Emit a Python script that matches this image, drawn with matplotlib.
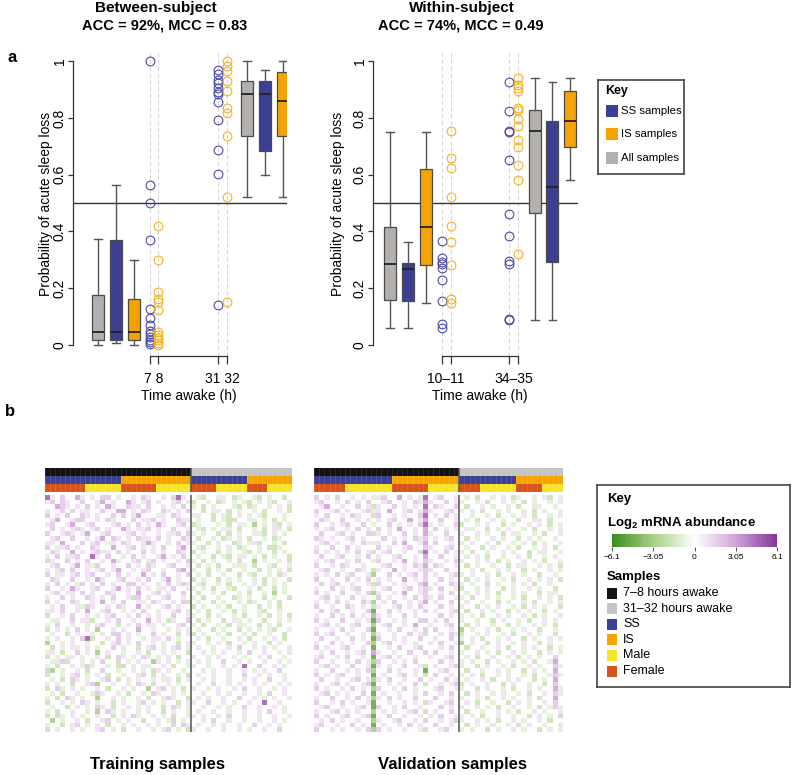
import numpy as np
import matplotlib
matplotlib.use("Agg")
import matplotlib.pyplot as plt
from matplotlib.colors import LinearSegmentedColormap, ListedColormap
from matplotlib.patches import Rectangle

plt.rcParams['font.family'] = ['Liberation Sans', 'DejaVu Sans']
plt.rcParams['mathtext.fontset'] = 'custom'
plt.rcParams['mathtext.rm'] = 'Liberation Sans:bold'

W, H = 792, 775

# ---------------- panel a data ----------------
# (whisker low, q1, median, q3, whisker high) : All, SS, IS at early time, then All, SS, IS late
between_boxes = [
    (0.0, 0.015, 0.045, 0.174, 0.372),
    (0.007, 0.015, 0.045, 0.37, 0.562),
    (0.0, 0.015, 0.045, 0.16, 0.298),
    (0.52, 0.735, 0.883, 0.93, 1.0),
    (0.60, 0.685, 0.883, 0.93, 0.97),
    (0.52, 0.735, 0.86, 0.963, 1.0),
]
between_ss_7 = [1.0, 0.562, 0.501, 0.371, 0.126, 0.093, 0.07, 0.049, 0.038, 0.026, 0.018, 0.009, 0.004]
between_is_8 = [0.419, 0.298, 0.187, 0.161, 0.151, 0.121, 0.045, 0.035, 0.023, 0.015, 0.006, 0.0]
between_ss_31 = [0.971, 0.954, 0.933, 0.925, 0.907, 0.892, 0.884, 0.856, 0.792, 0.688, 0.601, 0.141]
between_is_32 = [1.0, 0.984, 0.965, 0.93, 0.894, 0.836, 0.816, 0.738, 0.521, 0.149]
between_tick_labels = ['7 8', '31 32']

within_boxes = [
    (0.059, 0.158, 0.284, 0.417, 0.751),
    (0.059, 0.155, 0.266, 0.288, 0.364),
    (0.147, 0.282, 0.417, 0.621, 0.751),
    (0.088, 0.464, 0.754, 0.83, 0.942),
    (0.088, 0.291, 0.558, 0.788, 0.927),
    (0.581, 0.698, 0.791, 0.897, 0.942),
]
within_ss_early = [0.367, 0.305, 0.293, 0.284, 0.272, 0.229, 0.155, 0.074, 0.059]
within_is_early = [0.754, 0.66, 0.622, 0.521, 0.418, 0.364, 0.282, 0.161, 0.147]
within_ss_late = [0.927, 0.824, 0.755, 0.749, 0.651, 0.462, 0.383, 0.296, 0.285, 0.09, 0.086]
within_is_late = [0.942, 0.917, 0.907, 0.896, 0.837, 0.83, 0.795, 0.773, 0.723, 0.697, 0.634, 0.581, 0.32]
within_tick_labels = ['10\u201311', '34\u201335']

box_colors = ['#b3b0ad', '#3b4095', '#f5a300']
point_colors = ['#4a48aa', '#f5b020']

# ---------------- panel b data ----------------
# annotation runs (category, number of samples)
train_time = [('early', 29), ('late', 20)]
train_group = [('SS', 15), ('IS', 14), ('SS', 11), ('IS', 9)]
train_sex = [('F', 8), ('M', 7), ('F', 7), ('M', 7), ('F', 5), ('M', 6), ('F', 4), ('M', 5)]
valid_time = [('early', 28), ('late', 20)]
valid_group = [('SS', 15), ('IS', 13), ('SS', 11), ('IS', 9)]
valid_sex = [('F', 6), ('M', 9), ('F', 7), ('M', 6), ('F', 4), ('M', 7), ('F', 5), ('M', 4)]

# log2 abundance, coded per cell: . 0, : / - faint, p / g light, P / G medium, M / K strong
levels = {'.': 0.0, ':': 0.9, 'p': 1.6, 'P': 2.7, 'M': 4.4,
          '-': -0.9, 'g': -1.6, 'G': -2.7, 'K': -4.4}

train_rows = [
    "M:.p..P:.:.pp.:..:.p:..:.pM:.|.-g..:-.g-..-g.-..g.:",
    ":p.p:..p..:P.:..P:.:p.:..:p.:|g..-.g:.-.-g.:.-g..-.",
    "..Pp:.:.p.:.P:..p::.p..:.:.p.|-.g.-...-g.g-..-.:.g.",
    ":..p.p.::..p..PP.:.p:..p:.:.p|..g.-:.g.-..-.g..-.g-",
    "p.:.p..p:.:..p.p.:P...::.p:..|-:..g.-g.:.-.-g...-.g",
    ".:P..:pp..:.p:...p.::p.:..p::|.-..g.-gg..-:.-.g.-..",
    ":p..:P..:p...:p.:.p.:.P:..:p.|g-...-.g.:-.G.-.:g.--",
    ".p.:.:p:.:p.:..P:.::p.:..p..:|.-g.-.:-.g..-.g.:-.g.",
    "p..:p:.:P..:p...:p.:..:.::p.p|-.-..g.g.-..:-g.:.-.g",
    ".:p..p..:.:P.p:.:.p::.p.:..p:|.g..-.g:.-.g..-.g-..-",
    "::.P...p.:p.-:.p:..:P:..:.p.:|-..g.-..g-.-:g..-.g..",
    "p.-:p.:..p:..P..:p.:.:.p..:P.|.-g..-.:.g-..-.gg-..g",
    ".p:..P.:.:p-:.p.:..p.:.:..p:.|g.-..g.-..-g.-..g.-.-",
    ":.p.::p..M:.p..:.p.:..:P.:.p.|.-..g.-g.-:.-.g.-..g.",
    "p:..p.:.p..:.P:..:p.-p.:..:.p|-.g.-..-.g..G.-..-.g.",
    ".:p..:P.:-p..:..p.:.p:..:p..:|.g.-.g..-:-.g..-g..-.",
    ":.:p.p..:.:p.:P..:.:p..-..pP.|-..g.-.g..-..g.-.-.g.",
    "p.-:.:p.:p..:.p.:..P.:.p..:.p|.-.g..-..g.-g..-.g:.-",
    ".p:..p..:.P:..:p..:.p..:P.:..|g.-..g.-.-..-.g.-..g.",
    ":.p.:.-p.:.p.:..pp.:..:.p.:p:|.-g..-.g..-.:.g.-.-.g",
    "p..:.P:..:p..:P.:.p.:.-:.p..:|-.-.g..-g..-.g..g.-..",
    ".:p.-:.p.:..p:..:.P..:p.:..p.|.g..-.g..-.g..-.G.-.-",
    "-..p.:..p:.:.p..:gp.:..:p..:.|-.g..-..g-.-..g.-..g.",
    "p.:..p:..:.P.:.p..:-.p:..:.pg|.-..g.-..:.g-..-.g..-",
    ".:.p..:-p:..:.p:..P.:..:p.:..|g.-..-.g..-..g.-.g..-",
    "-:.p..:.P..:p..-.:.p..:..:p.:|.-.g..-.g.-..-g..-..g",
    "g..:.p..:.-.:p..:.p.:.-..p..:|-..g.-..-.g..-.g.-.g.",
    ".-:..p.::g..:.p..:..P.:.g:..p|.g.-..g.:-.-..g..-.-.",
    "-.p..:..-.:p..g.:.p.:-.:..:p.|-.g..-.g.:-..g.-.g..-",
    "g.:.-.p.:.G..:.:..P..:..-.:.:|.-..g.-..g.-.-.:g..-.",
    ".-..g.:..-.:.pp.:.-..p.:..g.:|g.-..-.g..-.g..-..g.-",
    "-.:..:.pMg..:.p.:..-.::.p.-..|.:.g..-..:.g..-.:.g..",
    "G..-.:..-..g.:p.-.p..:.-..g.:|-..-.:.g..-.:..g.-..:",
    ".g.:.:-.:.-..p.:..g.:p.-.:p.-|.:..-..:.p..-.:.-..:.",
    "-:.g..p.:.G.:..-..:.g..:.-..g|..:.-.:..-.p..:..-.:.",
    "g.-.::.-..:.g.p:.-.p:.-.:.g..|:..-.:..:.-..:.p..-.:",
    ".-:pg..:.-.p..g.-.:..G:.:.-.:|.-.:..p..:.-..:..:.-.",
    "-.g..:.-p:..-.gp.:.:-..:.g..-|:..-..:.-.M..p..:.-..",
    "pG.-..:.g..p..-..:.-.g:.:..-.|..:.-..:..:.-.:..p..:",
    "g..-.:p.-.:.g..-..:p.g.:..-.g|.:..:..-..p..:.:..-.:",
    ".-.g.p:.-..:p.g.:.-..:.-:.g.:|..-.:..:..-.:..p..:..",
    "-.:..g..:pG..:..-.p:.g..:.-..|.:..p..-.:..:.-..:.:.",
    "g.p-.:.-..:.g..:.-..G.:p.-.g.|:..-.:..:.p..:..-.:..",
    ".-.g..:..-p:..-.g..:.p-..:.-.|..:..:.-..:..:.p..:.-",
    "-.g.p:.-..G..:.-..:.g..:p-..g|.:.-..:..p..:.-.:..:.",
    "g..:.-.p:.-..g.:..-p.:.-..g.:|:..p..:.-..:..M..:..-",
    ".-..g.:.-.p:.g..:.-.:..g.p:.-|..:..-.:..p..:..:.-.:",
    "-.g..:..-.G.p:.-..:.-..g.:..-|.:..:..-..:..:.p..:..",
    "g.p-.:.-..:..g.:.p-..:.-.g..:|:.-..:.p..:..-..:..:.",
    ".G.-..:.g..:p.-.:..g..:.-p.-.|..:.p..:..-..:..:.-.:",
    "-..g.:p.-.:.g..:.-..:.-..g.p:|.:..:.-..:..p..:.-..:",
    "g.-..:.-..:p.-.g..:..-.:p.-.g|:..-..:..:.-..:..p..:",
]

valid_rows = [
    "p.:.p..:.:. - :p..P.:.: M .:p..:|.-.g..-.:.g-..-.:g.-",
    ":p..:.p.:.p . .:p..:.p: P :..p.:|-..-.g..:.-.g.-..-.:",
    ".:P..:..p.: g :..p.:.:. M .p:..p|.g..:.-..-.g..:-..-.",
    "p..:p.:..:p - :.P..:p.: P :..:p.|-.:.g..-.:..-.g.-..-",
    ":.p..:.p:.. g p..:.:..p M .:.p.:|..-..:.g..-.:.g..-.:",
    ".p:..p..:.: . :.:p..P.: P ..p..:|.-.g..:.-..g..:-.g..",
    "p..:.:p..p. - ..p.:.:.p M :.:..p|g..-.:..g.-..-.:.g.-",
    ":.:p..:.p.: . p.:.P..:. P .p.:.:|.:-..g.-.:..-.g..-.:",
    ".p..:p.:..p g :.:..p.:. P :..p..|-..:.-..g.:-..-.g..:",
    "p:.:..:p.:. . .p.:.:.p: p .:.:p.|.g.-..:.-..g.:.-..-.",
    ".:p.:..:.p: - :..p.P..: P .p..:.|-.:..-.g..-.:.g.-..:",
    ":..p..p.:.. . p.:..:p.. p :..:p.|.-..g.:..-.g..-.:.g.",
    "p.:.:.:.p.: g .:p..:..p M .:.p.:|:.g..-..:.-..g.-:..-",
    ".p..:p..:.p . :..:p..:. P ..p..:|.-.:.g..-..:.g..-.:.",
    ":.:p..:.p.. - p..:.P.:. p :..:.p|-..-.:.g.-..:.-.g..-",
    "p..:.p:..:. . .:p..:.p: P .p:..:|.g.:..-..g.:-..:.-.g",
    ".:p..:..p:. g :..P.:..: p :..p..|..-.g..:.-..g.-..:.-",
    ":.:.p.:p..: G ..p.:.:p. p .:..:p|-.:..-.g..:.-..g..-.",
    "p..:..p.:.p . :.:..P.:. p ..p.:.|.g.-.:..-.g..:.-.:.g",
    ".p.:p..:..: g p..:.:..p P .:..p:|:.-..g.-..:.-.g..-..",
    ":..p.:.:p.. - .:p..:p.: p :.p..:|g..-.:..g.-..:.-..g.",
    "p.:..p..:.p G :..:.P..: p ..:.p.|.-.:.-.g..:.-..g.:-.",
    ".:p.:..p.:. . p.:..:.p. p :.p..:|-.g..:.-..-.g..:.-.g",
    ":.:.p.:..p: G .:.p..:.: P .:..p.|.:..-..g.-..:.g..-.:",
    "p..:..p:.:. g :..:p.:.p . ..p.:.|-..g.-.:..-.g.:.-..g",
    ".p.:p..:..p K ..p.:..:. p .:..:p|.g..:.-..g.:.-..g.-.",
    ":..p.:.p.:. P :.:..p.:. . ..p.:.|:.-.g..:.-..:.g.-..:",
    "p.:..p..:.: K p..:.:..p p .:.p..|-..-..g.:..-.g..:.-.",
    ".:p.:..:p.. G .:p..:.P. . :..:p.|.g.:..-..g.-..:.-.g.",
    ":..:.p.:..p K ..:.p..:. p .p..:.|G.-..:.g..-.:..g..-.",
    "p.:p..:..:. G :..:..p.: g ..:.p:|g..-.:..-.g..:.-..g.",
    ".p..:..p.:. K p..:.:..p . .:..p.|-.:.g..-.:..g.-..:.-",
    ":..p.:.:..p G .:p..:.:. . :.p..:|G.-..g.:..-.:..g.-..",
    "p.:..:p..:. K ..:.p..:p . ..:.p.|.g..-..:.g..-.:..g.-",
    ".:.p..:.:p. P :..:..p.. p .p..:.|-..:.-.g..:.-..g.:.-",
    ":p..:.p..:. K .:p.:..:. . :..:p.|.-.g..:..-.g.:.-..p.",
    "p..:..:.p.: G p..:.:.p. . ..p.:.|:.-..g.-..:.-.g..-P.",
    ".:p.:..p..: K :.:..p..: g .:..:p|-..g.:..-.g..:.-..p:",
    ":..p..:.:.p G ..p.:..:. K ..:p..|.g..-..:.-..g.:.-.P.",
    "p.:.:p..:.. K .:..:p.:. g .p..:.|-.:.g..-.:..-.g..:p-",
    ".p..:..:p.: G :.p..:..p . :..p.:|.-..:.g..-.:..g.-.P.",
    ":..:p.:..:p K ..:.:..p. g ..:.:p|g.:..-..g.:..-..g.p.",
    "p.:..:.p.:. G p..:.p.:. . .:p..:|-..g.:..-.g..:.-..P:",
    ".:p.:.:..p. K .:..:..:. p ..:.p.|.g.:..-.:..-.g..:.p-",
    ":..p..:.p.: G :.p.:..p. . .p..:.|-..-.g..:.-..:.g..P.",
    "p..:.p.:..: K ..:..:.:. g :..:p.|.:.g..-..g.:.-..:.p.",
    ".:p..:..:p. K p..:.p..: . ..p.:.|-..:.-.g..:..-.g.-p:",
    ":..:p.:.:.. G .:.:..:p. g .:..p.|.g..-..:.-.g..:.-..-",
    "p.:..:p..:p K ..p..:..: . :.p..:|:.-.g..:..-..g.:.-.p",
    ".:.p.:..:.. G :..:p..:. p ..:.:p|-..:.-.g..:.-..:.g..",
    ":p..:..p.:. K .:..:.p.: . .p..:.|.g.-..:..-.g.:..-..:",
    "p..:.:..:.p G p.:..:..: g ..:p..|-.:..g.-..:.-..g.:.-",
]

heat_cmap = LinearSegmentedColormap.from_list(
    'gw_p', ['#3d8b1e', '#a9cf86', '#ffffff', '#cfa3d6', '#86369a'])
time_colors = {'early': '#121212', 'late': '#c4c4c4'}
group_colors = {'SS': '#3b4195', 'IS': '#f6a500'}
sex_colors = {'M': '#f5e32c', 'F': '#d8541a'}


def px_axes(fig, x0, y0, x1, y1):
    return fig.add_axes([x0 / W, 1 - y1 / H, (x1 - x0) / W, (y1 - y0) / H])


def ftext(fig, x, y, s, **kw):
    return fig.text(x / W, 1 - y / H, s, **kw)


def parse_rows(rows, n_left, n_right):
    out = []
    for r in rows:
        left, right = r.split('|')
        left = left.replace(' ', '').ljust(n_left, '.')[:n_left]
        right = right.replace(' ', '').ljust(n_right, '.')[:n_right]
        out.append([levels[c] for c in left + right])
    return np.array(out)


def expand(runs):
    return [cat for cat, n in runs for _ in range(n)]


def box_panel(ax, boxes, box_pos, points, pt_pos, xlim, tick_labels):
    ax.set_xlim(*xlim)
    ax.set_ylim(-0.04, 1.04)
    for p in pt_pos:
        ax.axvline(p, color='#d2d2d2', ls=(0, (4, 3)), lw=0.7, zorder=0)
    ax.axhline(0.5, color='#333333', lw=1.0, zorder=1)
    stats = [dict(whislo=b[0], q1=b[1], med=b[2], q3=b[3], whishi=b[4], fliers=[])
             for b in boxes]
    bp = ax.bxp(stats, positions=box_pos, widths=0.66, patch_artist=True,
                showfliers=False, capwidths=0.42,
                boxprops=dict(edgecolor='#4a4a4a', linewidth=0.9),
                medianprops=dict(color='#222222', linewidth=1.3),
                whiskerprops=dict(color='#555555', linewidth=1.0),
                capprops=dict(color='#555555', linewidth=1.0))
    for patch, c in zip(bp['boxes'], box_colors * 2):
        patch.set_facecolor(c)
    for vals, p, c in zip(points, pt_pos, point_colors * 2):
        ax.plot([p] * len(vals), vals, 'o', mfc='none', mec=c, ms=6.3, mew=0.8,
                zorder=3, clip_on=False)
    for s in ['top', 'right']:
        ax.spines[s].set_visible(False)
    ax.spines['left'].set_bounds(0, 1)
    ax.spines['bottom'].set_bounds(pt_pos[0], pt_pos[-1])
    for s in ['left', 'bottom']:
        ax.spines[s].set_color('#333333')
        ax.spines[s].set_linewidth(0.9)
    ax.set_yticks([0, 0.2, 0.4, 0.6, 0.8, 1.0])
    ax.set_yticklabels(['0', '0.2', '0.4', '0.6', '0.8', '1'], rotation=90, va='center')
    ax.set_xticks(pt_pos)
    ax.set_xticklabels([])
    ax.tick_params(axis='y', length=3.5, width=0.9, color='#333333', labelsize=10, pad=1)
    ax.tick_params(axis='x', length=6, width=0.9, color='#333333')
    xt = ax.get_xaxis_transform()
    for i, lab in enumerate(tick_labels):
        mid = (pt_pos[2 * i] + pt_pos[2 * i + 1]) / 2
        ax.text(mid, -0.052, lab, transform=xt, ha='center', va='top', fontsize=10)
    ax.text((pt_pos[0] + pt_pos[-1]) / 2, -0.108, 'Time awake (h)', transform=xt,
            ha='center', va='top', fontsize=10)
    ax.set_facecolor('none')


def heatmap(fig, x0, x1, values, time, group, sex, n_early):
    cats = [time_colors, group_colors, sex_colors]
    ann = px_axes(fig, x0, 468, x1, 492)
    colors = []
    rows = []
    for runs, cmap in zip([time, group, sex], cats):
        row = []
        for cat in expand(runs):
            c = cmap[cat]
            if c not in colors:
                colors.append(c)
            row.append(colors.index(c))
        rows.append(row)
    ann.imshow(np.array(rows), cmap=ListedColormap(colors), vmin=-0.5,
               vmax=len(colors) - 0.5, aspect='auto', interpolation='nearest')
    ncol = len(rows[0])
    ann.vlines(np.arange(ncol + 1) - 0.5, -0.5, 2.5, color='white', lw=0.4, alpha=0.18)
    ann.axvline(n_early - 0.5, color='#555555', lw=1.1)
    ann.set_xlim(-0.5, ncol - 0.5)
    ann.set_axis_off()

    body = px_axes(fig, x0, 495, x1, 732)
    body.imshow(values, cmap=heat_cmap, vmin=-6.1, vmax=6.1, aspect='auto',
                interpolation='nearest')
    body.axvline(n_early - 0.5, color='#555555', lw=1.1)
    body.set_axis_off()


fig = plt.figure(figsize=(W / 100, H / 100), dpi=100)

# ---- panel a, between-subject
ax1 = px_axes(fig, 73, 50, 287, 356)
between_box_pos = [1, 2, 3, 9.28, 10.28, 11.28]
between_pt_pos = [3.89, 4.33, 7.67, 8.17]
box_panel(ax1, between_boxes, between_box_pos,
          [between_ss_7, between_is_8, between_ss_31, between_is_32],
          between_pt_pos, (-0.39, 11.5), between_tick_labels)

# ---- panel a, within-subject
ax2 = px_axes(fig, 373, 50, 578, 356)
within_box_pos = [1, 2, 3, 9.06, 10.02, 11.0]
within_pt_pos = [3.87, 4.37, 7.63, 8.13]
box_panel(ax2, within_boxes, within_box_pos,
          [within_ss_early, within_is_early, within_ss_late, within_is_late],
          within_pt_pos, (0.056, 11.44), within_tick_labels)

for x1, x2, ttl, acc in [(156, 165, 'Between-subject', 'ACC = 92%, MCC = 0.83'),
                         (462, 461, 'Within-subject', 'ACC = 74%, MCC = 0.49')]:
    ftext(fig, x1, 8, ttl, ha='center', va='center', fontsize=11, fontweight='bold')
    ftext(fig, x2, 25, acc, ha='center', va='center', fontsize=10.5, fontweight='bold')

for x in [46, 338]:
    ftext(fig, x, 204, 'Probability of acute sleep loss', rotation=90,
          ha='center', va='center', fontsize=10)

ftext(fig, 12, 57, 'a', ha='center', va='center', fontsize=12, fontweight='bold')
ftext(fig, 10, 412, 'b', ha='center', va='center', fontsize=12, fontweight='bold')

# ---- key for panel a
k1 = px_axes(fig, 598, 80, 684, 174)
k1.set_xlim(598, 684)
k1.set_ylim(174, 80)
k1.set_xticks([])
k1.set_yticks([])
for s in k1.spines.values():
    s.set_color('#444444')
    s.set_linewidth(1.2)
k1.text(605, 91, 'Key', ha='left', va='center', fontsize=9, fontweight='bold')
for yc, c, lab in [(111, box_colors[1], 'SS samples'),
                   (134, box_colors[2], 'IS samples'),
                   (158, box_colors[0], 'All samples')]:
    k1.add_patch(Rectangle((606, yc - 6), 12, 12, facecolor=c, edgecolor='none'))
    k1.text(621, yc, lab, ha='left', va='center', fontsize=8.2)

# ---- panel b heatmaps
train_vals = parse_rows(train_rows, 29, 20)
valid_vals = parse_rows(valid_rows, 28, 20)
heatmap(fig, 45, 292, train_vals, train_time, train_group, train_sex, 29)
heatmap(fig, 314, 563, valid_vals, valid_time, valid_group, valid_sex, 28)
ftext(fig, 158, 765, 'Training samples', ha='center', va='center', fontsize=12, fontweight='bold')
ftext(fig, 452, 765, 'Validation samples', ha='center', va='center', fontsize=12, fontweight='bold')

# ---- key for panel b
k2 = px_axes(fig, 597, 485, 790, 687)
k2.set_xlim(597, 790)
k2.set_ylim(687, 485)
k2.set_xticks([])
k2.set_yticks([])
for s in k2.spines.values():
    s.set_color('#444444')
    s.set_linewidth(1.2)
k2.text(607, 499, 'Key', ha='left', va='center', fontsize=9.5, fontweight='bold')
k2.text(607, 523, r'Log$_2$ mRNA abundance', ha='left', va='center', fontsize=9.5,
        fontweight='bold')
k2.text(607, 577, 'Samples', ha='left', va='center', fontsize=9.5, fontweight='bold')
sample_keys = [('7\u20138 hours awake', time_colors['early']),
               ('31\u201332 hours awake', time_colors['late']),
               ('SS', group_colors['SS']), ('IS', group_colors['IS']),
               ('Male', sex_colors['M']), ('Female', sex_colors['F'])]
for i, (lab, c) in enumerate(sample_keys):
    yc = 593 + i * 15.6
    k2.add_patch(Rectangle((607, yc - 5.5), 10, 11, facecolor=c, edgecolor='none'))
    k2.text(623, yc, lab, ha='left', va='center', fontsize=9)

cb = px_axes(fig, 612, 534, 777, 547)
edges = np.linspace(-6.1, 6.1, 61)
centers = (edges[:-1] + edges[1:]) / 2
cb.pcolormesh(edges, [0, 1], centers[None, :], cmap=heat_cmap, vmin=-6.1, vmax=6.1)
cb.set_xlim(-6.1, 6.1)
cb.set_yticks([])
cb.set_xticks([-6.1, -3.05, 0, 3.05, 6.1])
cb.set_xticklabels(['\u22126.1', '\u22123.05', '0', '3.05', '6.1'])
cb.tick_params(axis='x', length=3, width=0.6, labelsize=6, pad=2, color='#333333')
for s in cb.spines.values():
    s.set_visible(False)

fig.savefig('out.png', dpi=100)
